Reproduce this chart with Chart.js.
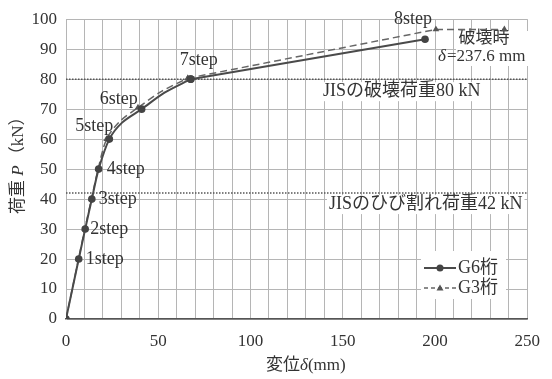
<!DOCTYPE html>
<html>
<head>
<meta charset="utf-8">
<script src="https://cdn.jsdelivr.net/npm/chart.js@4.4.0/dist/chart.umd.min.js"></script>
<style>
  body { margin: 0; background: #fff; }
  #wrap { width: 552px; height: 379px; }
</style>
</head>
<body>
<div id="wrap"><canvas id="loadChart" width="552" height="379"></canvas></div>
<script>
// G6 girder: load steps (markers) + extra points
const g6StepDisp = [0, 6.9, 10.4, 14.0, 17.7, 23.5, 41.0, 67.6, 194.6];
const g6StepLoad = [0, 20, 30, 40, 50, 60, 70, 80, 93.3];
const g6MidDisp = [30.4, 53.4];
const g6MidLoad = [65.5, 75.5];
// G3 girder, last point = failure (237.6 mm)
const g3StepDisp = [0, 6.8, 10.2, 13.8, 17.4, 22.0, 39.0, 66.0, 200.5, 237.6];
const g3StepLoad = [0, 20, 30, 40, 50, 60, 70.5, 80.3, 96.6, 96.6];
const g3MidDisp = [29.0, 52.0];
const g3MidLoad = [65.8, 76.0];

const stepNames = ['1step', '2step', '3step', '4step', '5step', '6step', '7step', '8step'];
const jisLoads = [80, 42];
const jisTexts = ['JISの破壊荷重80 kN', 'JISのひび割れ荷重42 kN'];
const xRange = [0, 250];
const yRange = [0, 100];

const SERIF = "'Liberation Serif', 'Noto Sans CJK JP', serif";

const g6Style = { label: 'G6桁', color: '#4a4a4a', width: 2, dash: [], marker: 'circle', fill: '#444' };
const g3Style = { label: 'G3桁', color: '#666', width: 1.5, dash: [7, 4], marker: 'triangle', fill: '#555' };

function buildCurve(sx, sy, mx, my) {
    const pts = sx.map((x, i) => ({ x: x, y: sy[i], step: true }))
        .concat(mx.map((x, i) => ({ x: x, y: my[i], step: false })));
    return pts.sort((a, b) => a.x - b.x);
}

// smooth part up to 7step, straight part after it
function girderSets(st, sx, sy, mx, my, order) {
    const pts = buildCurve(sx, sy, mx, my);
    const split = sx[7];
    const base = {
        label: st.label,
        borderColor: st.color,
        borderWidth: st.width,
        borderDash: st.dash,
        pointStyle: st.marker,
        pointRadius: c => (c.raw && c.raw.step ? 3.8 : 0),
        pointBackgroundColor: st.fill,
        pointBorderWidth: 0,
        order: order
    };
    return [
        Object.assign({}, base, { data: pts.filter(p => p.x <= split), tension: 0.3 }),
        Object.assign({}, base, { data: pts.filter(p => p.x >= split), tension: 0 })
    ];
}

const labelPlugin = {
    id: 'labels',
    beforeDatasetsDraw(chart) {
        const ctx = chart.ctx;
        const ys = chart.scales.y;
        ctx.save();
        ctx.textBaseline = 'middle';
        ctx.font = '18px ' + SERIF;

        // JIS reference labels (white box over the grid)
        const jisPos = [{ x: 323, dy: 12 }, { x: 329, dy: 11 }];
        jisTexts.forEach((t, i) => {
            const y = ys.getPixelForValue(jisLoads[i]) + jisPos[i].dy;
            const w = ctx.measureText(t).width;
            ctx.fillStyle = '#fff';
            ctx.fillRect(jisPos[i].x - 2, y - 9, w + 4, 19);
            ctx.fillStyle = '#333';
            ctx.textAlign = 'left';
            ctx.fillText(t, jisPos[i].x, y);
        });

        // failure note
        ctx.fillStyle = '#fff';
        ctx.fillRect(456, 31, 78, 35);
        ctx.fillStyle = '#333';
        ctx.textAlign = 'center';
        ctx.font = '17px ' + SERIF;
        ctx.fillText('破壊時', 484, 39);
        ctx.textAlign = 'left';
        ctx.font = 'italic 17px ' + SERIF;
        ctx.fillText('δ', 438, 57);
        ctx.font = '17px ' + SERIF;
        ctx.fillText('=237.6 mm', 447, 57);

        // legend background
        ctx.fillStyle = '#fff';
        ctx.fillRect(421, 251, 85, 48);
        ctx.restore();
    },
    afterDatasetsDraw(chart) {
        const ctx = chart.ctx;
        const xs = chart.scales.x, ys = chart.scales.y;
        ctx.save();
        ctx.fillStyle = '#333';
        ctx.textBaseline = 'middle';
        ctx.font = '18px ' + SERIF;

        // step labels next to G6 points
        const offs = [
            [7, 0, 'left'], [5, 0, 'left'], [7, 0, 'left'], [8, 0, 'left'],
            [4, -13, 'right'], [-4, -10, 'right'], [8, -19, 'center'], [-12, -20, 'center']
        ];
        stepNames.forEach((s, i) => {
            const px = xs.getPixelForValue(g6StepDisp[i + 1]);
            const py = ys.getPixelForValue(g6StepLoad[i + 1]);
            ctx.textAlign = offs[i][2];
            ctx.fillText(s, px + offs[i][0], py + offs[i][1]);
        });

        // legend
        [[g6Style, 268], [g3Style, 288]].forEach(([st, y]) => {
            ctx.save();
            ctx.strokeStyle = st.color;
            ctx.lineWidth = st.width;
            ctx.setLineDash(st.dash.length ? [4, 3] : []);
            ctx.beginPath();
            ctx.moveTo(424, y);
            ctx.lineTo(456, y);
            ctx.stroke();
            ctx.restore();
            ctx.fillStyle = st.fill;
            ctx.beginPath();
            if (st.marker === 'triangle') {
                ctx.moveTo(440, y - 3.5);
                ctx.lineTo(443.5, y + 2.5);
                ctx.lineTo(436.5, y + 2.5);
                ctx.closePath();
            } else {
                ctx.arc(440, y, 3.5, 0, Math.PI * 2);
            }
            ctx.fill();
            ctx.fillStyle = '#333';
            ctx.textAlign = 'left';
            ctx.font = '18px ' + SERIF;
            ctx.fillText(st.label, 458, y);
        });

        // axis titles
        ctx.font = '17px ' + SERIF;
        ctx.textAlign = 'left';
        let x0 = 266;
        ctx.fillText('変位', x0, 366);
        x0 += ctx.measureText('変位').width;
        ctx.font = 'italic 17px ' + SERIF;
        ctx.fillText('δ', x0, 366);
        x0 += ctx.measureText('δ').width;
        ctx.font = '17px ' + SERIF;
        ctx.fillText('(mm)', x0, 366);

        ctx.translate(19, 214);
        ctx.rotate(-Math.PI / 2);
        let t = 0;
        ctx.fillText('荷重 ', t, 0);
        t += ctx.measureText('荷重 ').width;
        ctx.font = 'italic 17px ' + SERIF;
        ctx.fillText('P', t, 0);
        t += ctx.measureText('P').width + 2;
        ctx.font = '17px ' + SERIF;
        ctx.fillText('（kN）', t, 0);
        ctx.restore();
    }
};

new Chart(document.getElementById('loadChart'), {
    type: 'line',
    data: {
        datasets: [
            ...girderSets(g6Style, g6StepDisp, g6StepLoad, g6MidDisp, g6MidLoad, 1),
            ...girderSets(g3Style, g3StepDisp, g3StepLoad, g3MidDisp, g3MidLoad, 2),
            ...jisLoads.map(v => ({
                label: 'jis' + v,
                data: [{ x: xRange[0], y: v }, { x: xRange[1], y: v }],
                borderColor: '#555',
                borderWidth: 1.5,
                borderDash: [1.5, 1.5],
                pointRadius: 0,
                order: 3
            }))
        ]
    },
    options: {
        responsive: false,
        animation: false,
        layout: { padding: { top: 18, right: 15, left: 0, bottom: 0 } },
        scales: {
            x: {
                type: 'linear',
                min: xRange[0],
                max: xRange[1],
                grid: { color: '#b5b5b5', lineWidth: 1, drawTicks: false },
                border: { color: '#555', width: 1.5 },
                ticks: {
                    stepSize: 10,
                    autoSkip: false,
                    maxRotation: 0,
                    padding: 12,
                    color: '#333',
                    font: { family: SERIF, size: 17 },
                    callback: v => (v % 50 === 0 ? v : '')
                },
                afterFit: s => { s.height = 60; }
            },
            y: {
                min: yRange[0],
                max: yRange[1],
                grid: { color: '#b5b5b5', lineWidth: 1, drawTicks: false },
                border: { color: '#b5b5b5' },
                ticks: {
                    stepSize: 10,
                    padding: 9,
                    color: '#333',
                    font: { family: SERIF, size: 17 }
                },
                afterFit: s => { s.width = 66; }
            }
        },
        plugins: {
            legend: { display: false },
            tooltip: { enabled: false }
        }
    },
    plugins: [labelPlugin]
});
</script>
</body>
</html>
